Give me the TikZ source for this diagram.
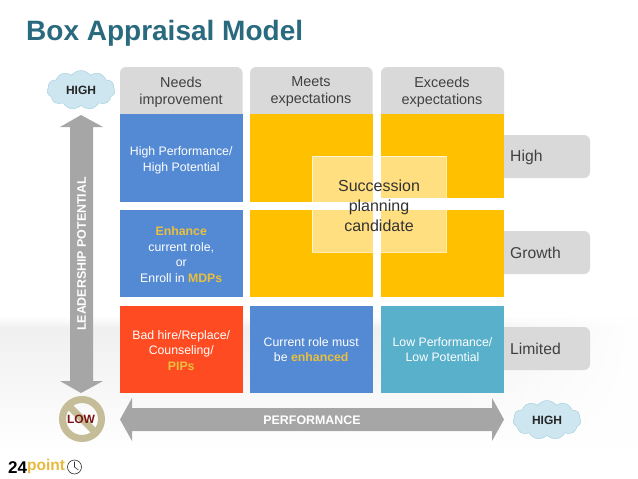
\documentclass[tikz,border=0pt]{standalone}
\usepackage{fontspec}
\setmainfont{Liberation Sans}
\usetikzlibrary{shapes.symbols,fadings}

\definecolor{titleteal}{HTML}{2A6A7F}
\definecolor{cellblue}{HTML}{538AD3}
\definecolor{cellred}{HTML}{FF4B21}
\definecolor{cellteal}{HTML}{58B0CB}
\definecolor{cellgold}{HTML}{FFC000}
\definecolor{goldtext}{HTML}{EABF3F}
\definecolor{headgray}{HTML}{D9D9D9}
\definecolor{arrowgray}{HTML}{A6A6A6}
\definecolor{cloudblue}{HTML}{CDE6F0}
\definecolor{cloudline}{HTML}{A3CDDD}
\definecolor{lowtan}{HTML}{C4BD97}
\definecolor{lowred}{HTML}{7B1414}
\definecolor{textgray}{HTML}{404040}
\definecolor{logogold}{HTML}{E8B93C}

\tikzset{
  cellbox/.style={minimum width=122.5pt,minimum height=87.5pt,inner sep=0pt,align=center,
    text=white,font=\fontsize{12.3}{15.5}\selectfont},
  headtext/.style={align=center,text=textgray,font=\fontsize{14.4}{17}\selectfont},
  rowtext/.style={anchor=west,inner sep=0pt,text=textgray,font=\fontsize{15.7}{17}\selectfont},
  cloudbox/.style={cloud,cloud puffs=11,cloud puff arc=110,aspect=1.8,draw=cloudline,fill=cloudblue,
    minimum width=68pt,minimum height=39pt,inner sep=0pt,text=black!85,font=\fontsize{12}{13}\selectfont\bfseries},
  arrowtext/.style={text=white,font=\bfseries}
}
\newcommand{\goldbf}[1]{\textcolor{goldtext}{\textbf{#1}}}

\begin{document}
\begin{tikzpicture}[x=1pt,y=-1pt]
  \useasboundingbox (0,0) rectangle (638,479);
  % Fons
  \fill[white] (0,0) rectangle (638,479);
  \shade[top color=white,bottom color=black!6] (0,316) rectangle (638,328);
  \shade[top color=black!6,bottom color=white] (0,328) rectangle (638,450);
  \fill[white,path fading=west] (440,310) rectangle (638,451);

  \node[anchor=west,inner sep=0pt,text=titleteal,font=\fontsize{28}{30}\selectfont\bfseries] (title) at (26,33) {Box Appraisal Model};

  % Files
  \fill[headgray,rounded corners=6pt] (490,135) rectangle (590,178);
  \fill[headgray,rounded corners=6pt] (490,231) rectangle (590,274);
  \fill[headgray,rounded corners=6pt] (490,327) rectangle (590,370);
  \node[rowtext] (rowhigh) at (510,157) {High};
  \node[rowtext] (rowgrowth) at (510,253) {Growth};
  \node[rowtext] (rowlimited) at (510,349) {Limited};

  % Capcaleres
  \fill[headgray,rounded corners=6pt] (120,67) rectangle (242.5,125);
  \fill[headgray,rounded corners=6pt] (250,67) rectangle (372.5,125);
  \fill[headgray,rounded corners=6pt] (381,67) rectangle (504,125);
  \node[headtext] (needs) at (181,92) {Needs\\improvement};
  \node[headtext] (meets) at (311,92) {Meets\\expectations};
  \node[headtext] (exceeds) at (442,92) {Exceeds\\expectations};

  % Quadricula
  \node[cellbox,fill=cellblue] (cellA) at (181.25,158) {};
  \node[cellbox,text depth=0pt] (textA) at (181.25,159) {High Performance/\\High Potential};
  \node[cellbox,fill=cellgold] (cellB) at (311.25,158) {};
  \node[cellbox,fill=cellgold,minimum height=84pt] (cellC) at (442.5,156) {};
  \node[cellbox,fill=cellblue] (cellD) at (181.25,253.5) {};
  \node[cellbox] (textD) at (181.25,254.5) {\goldbf{Enhance}\\current role,\\or\\Enroll in \goldbf{MDPs}};
  \node[cellbox,fill=cellgold] (cellE) at (311.25,253.5) {};
  \node[cellbox,fill=cellgold] (cellF) at (442.5,253.5) {};
  \node[cellbox,fill=cellred] (cellG) at (181.25,349.5) {};
  \node[cellbox] (textG) at (181.25,350.5) {Bad hire/Replace/\\Counseling/\\\goldbf{PIPs}};
  \node[cellbox,fill=cellblue] (cellH) at (311.25,349.5) {Current role must\\be \goldbf{enhanced}};
  \node[cellbox,fill=cellteal] (cellI) at (442.5,349.5) {Low Performance/\\Low Potential};

  % Caixa central
  \fill[white,opacity=0.5] (312,156) rectangle (446,252);
  \draw[white,opacity=0.7,line width=0.8pt] (312,156) rectangle (446,252);
  \node[align=center,text=black!80,font=\fontsize{16}{20}\selectfont] (succession) at (379,205.5) {Succession\\planning\\candidate};

  % Fletxes
  \fill[arrowgray] (81,115) -- (103,127) -- (93,127) -- (93,381) -- (103,381) -- (81,393)
    -- (60,381) -- (70,381) -- (70,127) -- (60,127) -- cycle;
  \node[arrowtext,rotate=90,font=\fontsize{12.4}{13}\selectfont\bfseries] (leadership) at (81.5,254) {LEADERSHIP POTENTIAL};
  \fill[arrowgray] (120,419.5) -- (132,398) -- (132,408) -- (492,408) -- (492,398) -- (504,419.5)
    -- (492,441) -- (492,431) -- (132,431) -- (132,441) -- cycle;
  \node[arrowtext,font=\fontsize{12.4}{13}\selectfont\bfseries] (performance) at (312,420) {PERFORMANCE};

  % Nuvols
  \node[cloudbox] (highY) at (81,90) {HIGH};
  \node[cloudbox] (highX) at (547,420) {HIGH};

  % LOW
  \draw[lowtan,line width=7pt] (82,419) circle (19.5pt);
  \draw[lowtan,line width=7pt] (68.5,405.5) -- (95.5,432.5);
  \node[text=lowred,font=\fontsize{12}{13}\selectfont\bfseries] (low) at (81,419) {LOW};

  % Logotip
  \node[anchor=base west,inner sep=0pt,font=\fontsize{17}{18}\selectfont\bfseries] (logoA) at (8,473) {24};
  \node[anchor=base west,inner sep=0pt,text=logogold,font=\fontsize{15.5}{18}\selectfont\bfseries] (logoB) at (27,470.5) {point};
  \draw[black!80,line width=0.6pt] (74.5,467) circle (7pt);
  \draw[black!80,line width=0.6pt] (74.5,461.5) -- (74.5,467) -- (78.5,470);
\end{tikzpicture}
\end{document}
